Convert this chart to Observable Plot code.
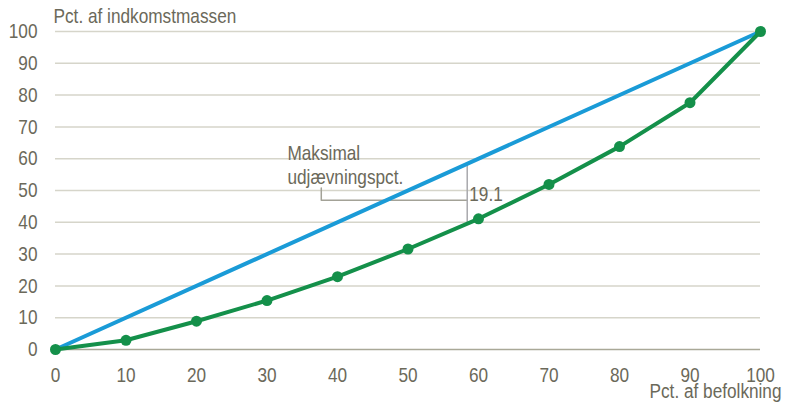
<!DOCTYPE html>
<html>
<head>
<meta charset="utf-8">
<script src="https://cdn.jsdelivr.net/npm/d3@7"></script>
<script src="https://cdn.jsdelivr.net/npm/@observablehq/plot@0.6"></script>
<style>
  html, body { margin: 0; padding: 0; background: #fff; }
  #chart svg { display: block; }
</style>
</head>
<body>
<div id="chart"></div>
<script>
// Population share (x) and income share (y)
const popPct = [0, 10, 20, 30, 40, 50, 60, 70, 80, 90, 100];
const lorenz = [0, 2.9, 8.9, 15.4, 22.9, 31.6, 41.1, 51.9, 63.8, 77.6, 100];
const equality = [0, 100];
const equalityX = [0, 100];
const yTicks = [0, 10, 20, 30, 40, 50, 60, 70, 80, 90, 100];
const xTicks = [0, 10, 20, 30, 40, 50, 60, 70, 80, 90, 100];

// Annotation: maximal equalization percentage
const gapX = 58.4;
const gapLow = 39.8;
const gapHigh = 58.6;
const gapLabel = "19.1";
const bracketX = [37.7, 37.7, 58.4];
const bracketY = [50.8, 46.9, 46.9];
const noteText = "Maksimal\nudjævningspct.";
const noteX = 32.9;
const noteY = 58.1;

const yTitle = "Pct. af indkomstmassen";
const xTitle = "Pct. af befolkning";

const FONT = '"Liberation Sans", Arial, sans-serif';
const TXT = "#6b695a";
const FS = 21;

const lorenzData = popPct.map((x, i) => ({x, y: lorenz[i]}));
const eqData = equalityX.map((x, i) => ({x, y: equality[i]}));
const bracket = bracketX.map((x, i) => ({x, y: bracketY[i]}));

const chart = Plot.plot({
  width: 792,
  height: 406,
  marginLeft: 55,
  marginRight: 32,
  marginTop: 31,
  marginBottom: 57,
  style: {fontFamily: FONT, fontSize: FS + "px", color: TXT, background: "#fff"},
  x: {domain: [0, 100]},
  y: {domain: [0, 100]},
  marks: [
    Plot.ruleY(yTicks.filter(d => d !== 0), {stroke: "#d6d5ca", strokeWidth: 1.5}),
    Plot.ruleY([0], {stroke: "#a9a897", strokeWidth: 1.5}),
    Plot.axisY({ticks: yTicks, tickSize: 0, tickPadding: 18, label: null, fill: TXT, fontSize: FS}),
    Plot.axisX({ticks: xTicks, tickSize: 0, tickPadding: 18, label: null, fill: TXT, fontSize: FS}),
    Plot.line(bracket, {x: "x", y: "y", stroke: "#a3a297", strokeWidth: 1.5}),
    Plot.ruleX([gapX], {y1: gapLow, y2: gapHigh, stroke: "#a9a9ad", strokeWidth: 1.5}),
    Plot.line(eqData, {x: "x", y: "y", stroke: "#1a9bd7", strokeWidth: 4}),
    Plot.line(lorenzData, {x: "x", y: "y", stroke: "#14904a", strokeWidth: 4}),
    Plot.dot(lorenzData, {x: "x", y: "y", r: 5.5, fill: "#14904a"}),
    Plot.text([noteText], {x: noteX, y: noteY, text: d => d, textAnchor: "start", lineHeight: 1.14, lineAnchor: "middle", fill: TXT, fontSize: FS}),
    Plot.text([gapLabel], {x: gapX, y: (gapLow + gapHigh) / 2, text: d => d, textAnchor: "start", dx: 2, dy: 1, fill: TXT, fontSize: FS}),
    Plot.text([yTitle], {frameAnchor: "top-left", text: d => d, textAnchor: "start", lineAnchor: "middle", dx: -2, dy: -15, fill: TXT, fontSize: FS}),
    Plot.text([xTitle], {frameAnchor: "bottom-right", text: d => d, textAnchor: "end", lineAnchor: "middle", dx: 21, dy: 42.5, fill: TXT, fontSize: 20})
  ]
});
document.getElementById("chart").appendChild(chart);

// Narrow the glyphs (the reference uses a condensed face)
const NARROW = 0.82;
d3.select(chart).selectAll("text").each(function() {
  const tspans = this.querySelectorAll("tspan");
  const targets = tspans.length ? Array.from(tspans) : [this];
  for (const el of targets) {
    const w = el.getComputedTextLength();
    if (w > 0) {
      const k = el.closest("text").textContent === xTitle ? 0.86 : NARROW;
      el.setAttribute("textLength", (w * k).toFixed(2));
      el.setAttribute("lengthAdjust", "spacingAndGlyphs");
    }
  }
});
</script>
</body>
</html>
